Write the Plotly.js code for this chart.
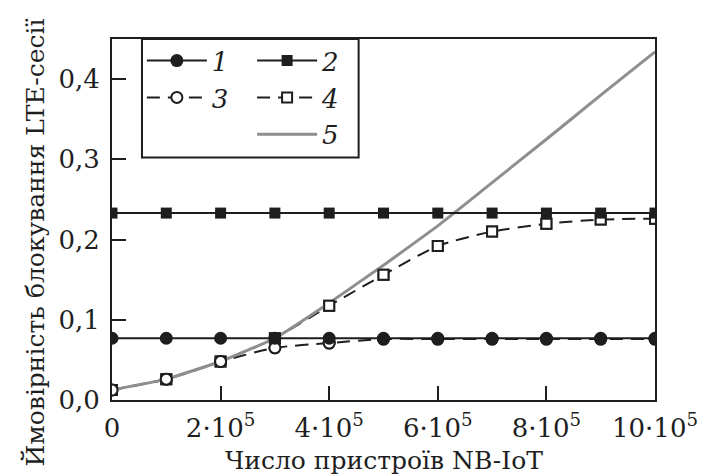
<!DOCTYPE html>
<html>
<head>
<meta charset="utf-8">
<script src="https://cdn.plot.ly/plotly-3.0.1.min.js"></script>
<style>html,body{margin:0;padding:0;background:#fff;}#chart{width:701px;height:476px;}</style>
</head>
<body>
<div id="chart"></div>
<script>
// Data
const xValues = [0, 100000, 200000, 300000, 400000, 500000, 600000, 700000, 800000, 900000, 1000000];
const series1 = [0.077, 0.077, 0.077, 0.077, 0.077, 0.077, 0.077, 0.077, 0.077, 0.077, 0.077];
const series2 = [0.233, 0.233, 0.233, 0.233, 0.233, 0.233, 0.233, 0.233, 0.233, 0.233, 0.233];
const series3 = [0.0125, 0.026, 0.048, 0.065, 0.071, 0.076, 0.076, 0.076, 0.076, 0.076, 0.076];
const series4 = [0.0125, 0.026, 0.048, 0.077, 0.1175, 0.156, 0.192, 0.210, 0.2196, 0.225, 0.226];
const series5 = [0.0125, 0.026, 0.048, 0.077, 0.121, 0.168, 0.217, 0.271, 0.325, 0.380, 0.434];
const seriesNames = ['<i>1</i>', '<i>2</i>', '<i>3</i>', '<i>4</i>', '<i>5</i>'];
const xTickVals = [0, 200000, 400000, 600000, 800000, 1000000];
const xTickText = ['0', '2·10<sup>5</sup>', '4·10<sup>5</sup>', '6·10<sup>5</sup>', '8·10<sup>5</sup>', '10·10<sup>5</sup>'];
const yTickVals = [0, 0.1, 0.2, 0.3, 0.4];
const xTitle = 'Число пристроїв NB-IoT';
const yTitle = 'Ймовірність блокування LTE-сесії';

const ink = '#1e1e1e';
const serif = 'DejaVu Serif';

const traces = [
  { x: xValues, y: series4, name: seriesNames[3], mode: 'lines+markers', legend: 'legend2', legendrank: 2,
    line: { color: ink, width: 2, dash: '13px,8px', shape: 'spline', smoothing: 0.6 },
    marker: { symbol: 'square', size: 10, color: '#fff', line: { color: ink, width: 2 } } },
  { x: xValues, y: series3, name: seriesNames[2], mode: 'lines+markers', legend: 'legend', legendrank: 2,
    line: { color: ink, width: 2, dash: '13px,8px', shape: 'spline', smoothing: 0.6 },
    marker: { symbol: 'circle', size: 11, color: '#fff', line: { color: ink, width: 2 } } },
  { x: xValues, y: series5, name: seriesNames[4], mode: 'lines', legend: 'legend2', legendrank: 3,
    line: { color: '#8e8e8e', width: 3, shape: 'spline', smoothing: 0.3 } },
  { x: xValues, y: series4, mode: 'markers', showlegend: false,
    marker: { symbol: 'square', size: 10, color: '#fff', line: { color: ink, width: 2 } } },
  { x: xValues, y: series3, mode: 'markers', showlegend: false,
    marker: { symbol: 'circle', size: 11, color: '#fff', line: { color: ink, width: 2 } } },
  { x: xValues, y: series2, name: seriesNames[1], mode: 'lines+markers', legend: 'legend2', legendrank: 1,
    line: { color: ink, width: 2 },
    marker: { symbol: 'square', size: 11, color: ink } },
  { x: xValues, y: series1, name: seriesNames[0], mode: 'lines+markers', legend: 'legend', legendrank: 1,
    line: { color: ink, width: 2 },
    marker: { symbol: 'circle', size: 13, color: ink } }
];

const legendCommon = {
  xanchor: 'left', yanchor: 'top', bgcolor: 'rgba(0,0,0,0)', borderwidth: 0,
  itemwidth: 60, traceorder: 'normal',
  font: { family: serif, size: 26, color: ink }
};

const layout = {
  width: 701, height: 476,
  margin: { l: 112, r: 46, t: 39, b: 76 },
  paper_bgcolor: '#fff', plot_bgcolor: '#fff',
  separators: ',.',
  showlegend: true,
  font: { family: serif, color: ink },
  xaxis: {
    range: [0, 1000000], tickvals: xTickVals, ticktext: xTickText,
    ticks: 'inside', ticklen: 14, tickwidth: 2, tickcolor: ink,
    showline: true, linecolor: ink, linewidth: 2, mirror: true,
    showgrid: false, zeroline: false, ticklabelstandoff: 4,
    tickfont: { family: serif, size: 26, color: ink }
  },
  yaxis: {
    range: [0, 0.45], tickvals: yTickVals, tickformat: '.1f',
    ticks: 'inside', ticklen: 14, tickwidth: 2, tickcolor: ink,
    showline: true, linecolor: ink, linewidth: 2, mirror: true,
    showgrid: false, zeroline: false, ticklabelstandoff: 5,
    tickfont: { family: serif, size: 26, color: ink }
  },
  legend: Object.assign({ x: 0.055, y: 1.005 }, legendCommon),
  legend2: Object.assign({ x: 0.258, y: 1.005 }, legendCommon),
  shapes: [
    { type: 'rect', xref: 'paper', yref: 'paper', x0: 0.0552, x1: 0.4542, y0: 0.672, y1: 1,
      line: { color: ink, width: 2 }, fillcolor: 'rgba(0,0,0,0)', layer: 'above' }
  ],
  annotations: [
    { text: yTitle, xref: 'paper', yref: 'paper', x: -0.142, y: 0.436, textangle: -90,
      xanchor: 'center', yanchor: 'middle', showarrow: false,
      font: { family: serif, size: 25, color: ink } },
    { text: xTitle, xref: 'paper', yref: 'paper', x: 0.5, y: -0.167,
      xanchor: 'center', yanchor: 'middle', showarrow: false,
      font: { family: serif, size: 25, color: ink } }
  ]
};

Plotly.newPlot('chart', traces, layout, { displayModeBar: false, staticPlot: true });
</script>
</body>
</html>
